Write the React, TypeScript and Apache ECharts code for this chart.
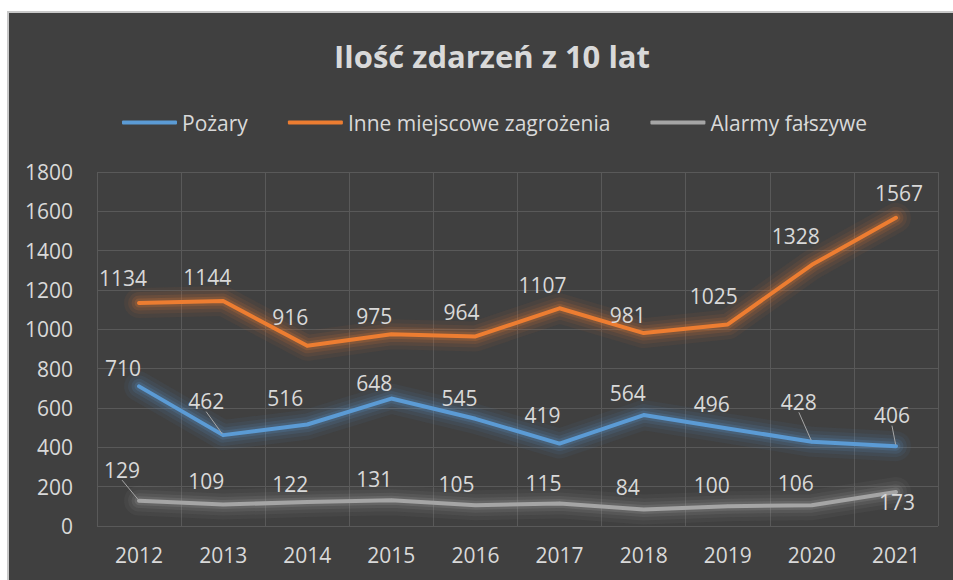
import React, { useEffect, useRef } from "react";
import * as echarts from "echarts";

const years = ["2012", "2013", "2014", "2015", "2016", "2017", "2018", "2019", "2020", "2021"];
const seriesNames = ["Pożary", "Inne miejscowe zagrożenia", "Alarmy fałszywe"];
const fires = [710, 462, 516, 648, 545, 419, 564, 496, 428, 406];
const localThreats = [1134, 1144, 916, 975, 964, 1107, 981, 1025, 1328, 1567];
const falseAlarms = [129, 109, 122, 131, 105, 115, 84, 100, 106, 173];
const yTicks = { min: 0, max: 1800, interval: 200 };

// label placement (offset of label centre from its point), as in the reference
const fireOffsets = [[-16, -18], [-17, -34], [-22, -27], [-17, -16], [-16, -21], [-17, -29], [-16, -22], [-16, -24], [-13, -40], [-4, -31]];
const localOffsets = [[-16, -25], [-16, -24], [-17, -29], [-17, -18], [-14, -24], [-17, -23], [-16, -18], [-14, -28], [-16, -29], [3, -25]];
const falseOffsets = [[-17, -31], [-17, -24], [-17, -18], [-17, -21], [-19, -21], [-16, -20], [-16, -22], [-16, -21], [-16, -22], [1, 10]];
const fireLeaders = [1, 8, 9];
const localLeaders: number[] = [];
const falseLeaders = [0];

const colors = ["#5b9bd5", "#ed7d31", "#a5a5a5"];
const FONT = "'Open Sans', 'Liberation Sans', sans-serif";
const TEXT = "#d9d9d9";

export default function App() {
  const ref = useRef<HTMLDivElement>(null);
  useEffect(() => {
    if (!ref.current) return;
    const chart = echarts.init(ref.current, undefined, { renderer: "svg" });
    const allOffsets = [fireOffsets, localOffsets, falseOffsets];
    const leaders = [fireLeaders, localLeaders, falseLeaders];
    const values = [fires, localThreats, falseAlarms];

    // soft glow underlays (same data, wide translucent strokes)
    const glowLayers = [
      { width: 30, opacity: 0.06 },
      { width: 22, opacity: 0.08 },
      { width: 15, opacity: 0.12 },
      { width: 9, opacity: 0.18 },
    ];
    const glowSeries: any[] = [];
    values.forEach((vals, si) => {
      glowLayers.forEach((g) => {
        glowSeries.push({
          name: "glow-" + si + "-" + g.width,
          type: "line",
          data: vals,
          symbol: "none",
          silent: true,
          lineStyle: { color: colors[si], width: g.width, opacity: g.opacity, join: "round", cap: "round" },
          tooltip: { show: false },
          z: 1,
        });
      });
    });

    const series = values.map((vals, si) => ({
      name: seriesNames[si],
      type: "line",
      data: vals.map((v, i) => ({
        value: v,
        labelLine: { show: leaders[si].includes(i) },
      })),
      symbol: "circle",
      symbolSize: 3,
      showSymbol: true,
      itemStyle: { color: colors[si] },
      lineStyle: { color: colors[si], width: 4, cap: "round", join: "round" },
      label: {
        show: true,
        position: "inside",
        color: TEXT,
        fontFamily: FONT,
        fontSize: 21,
        textBorderWidth: 0,
      },
      labelLine: {
        show: false,
        lineStyle: { color: "#a6a6a6", width: 1 },
      },
      labelLayout: (p: any) => {
        const o = allOffsets[si][p.dataIndex];
        return { dx: o[0], dy: o[1] };
      },
      z: 5 - si,
    }));

    chart.setOption({
      animation: false,
      backgroundColor: "transparent",
      color: colors,
      title: {
        text: "Ilość zdarzeń z 10 lat",
        left: 487,
        textAlign: "center",
        top: 35,
        textStyle: { color: TEXT, fontFamily: FONT, fontSize: 31, fontWeight: "bold" },
      },
      legend: {
        left: 117,
        top: 107,
        itemWidth: 55,
        itemHeight: 4,
        itemGap: 40,
        icon: "roundRect",
        textStyle: { color: TEXT, fontFamily: FONT, fontSize: 21 },
        data: seriesNames,
      },
      grid: { left: 97, right: 15, top: 172, bottom: 54 },
      xAxis: {
        type: "category",
        data: years,
        boundaryGap: true,
        axisLine: { show: false },
        axisTick: { show: false },
        axisLabel: { color: TEXT, fontFamily: FONT, fontSize: 21, margin: 18 },
        splitLine: { show: true, lineStyle: { color: "#595959", width: 1 } },
      },
      yAxis: {
        type: "value",
        min: yTicks.min,
        max: yTicks.max,
        interval: yTicks.interval,
        axisLine: { show: false },
        axisTick: { show: false },
        axisLabel: {
          color: TEXT,
          fontFamily: FONT,
          fontSize: 21,
          margin: 24,
          formatter: (v: number) => String(v),
        },
        splitLine: { show: true, lineStyle: { color: "#595959", width: 1 } },
      },
      series: [...glowSeries, ...series],
    });
    return () => chart.dispose();
  }, []);
  return (
    <div
      style={{
        position: "fixed",
        left: 0,
        top: 0,
        width: 953,
        height: 580,
        background: "#ffffff",
        overflow: "hidden",
      }}
    >
      <div
        style={{
          position: "absolute",
          left: 7,
          top: 11,
          width: 970,
          height: 600,
          background: "#404040",
          border: "2px solid #c8c8c8",
        }}
      />
      <div
        ref={ref}
        style={{ position: "absolute", left: 0, top: 0, width: 953, height: 580 }}
      />
    </div>
  );
}
